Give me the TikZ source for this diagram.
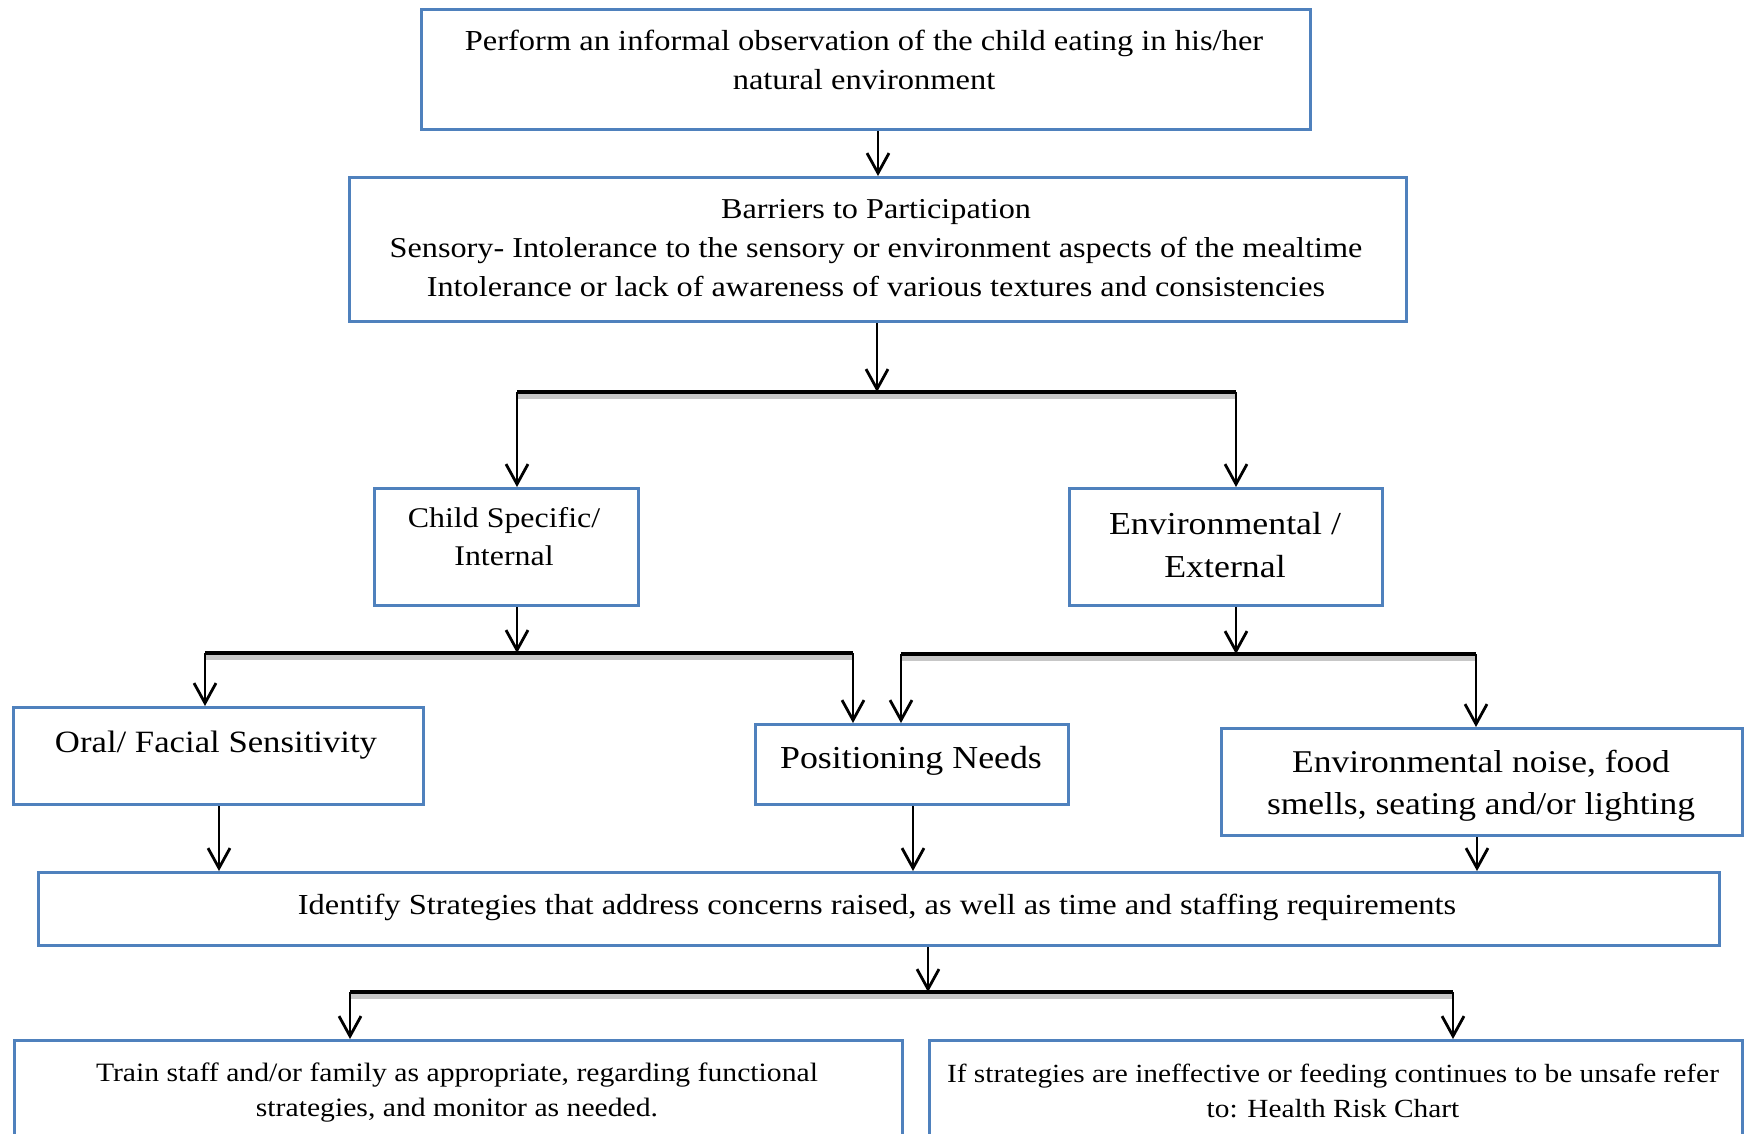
\documentclass[tikz,border=0pt]{standalone}
\usepackage{fontspec}
\setmainfont[FakeStretch=1.12]{Liberation Serif}
\usetikzlibrary{arrows.meta}
\definecolor{boxblue}{HTML}{4F81BD}
\begin{document}
\begin{tikzpicture}[x=1pt,y=-1pt,
  box/.style={draw=boxblue,line width=3pt,inner sep=0pt,anchor=north west},
  txt/.style={align=center,inner sep=0pt},
  flow/.style={line width=2.8pt,-{Straight Barb[length=20pt,width=22pt]}},
  busline/.style={line width=3.5pt},
  busshade/.style={line width=4.5pt,draw=black!22}]
\clip (0,0) rectangle (1744,1133);
\fill[white] (0,0) rectangle (1744,1133);

% boxes
\node[box,minimum width=889,minimum height=120] (obs)   at (420,8) {};
\node[box,minimum width=1057,minimum height=144] (barr) at (348,176) {};
\node[box,minimum width=264,minimum height=117] (child) at (373,487) {};
\node[box,minimum width=313,minimum height=117] (env)   at (1068,487) {};
\node[box,minimum width=410,minimum height=97]  (oral)  at (11.5,706) {};
\node[box,minimum width=313,minimum height=80]  (pos)   at (754,723) {};
\node[box,minimum width=521,minimum height=107] (noise) at (1220,727) {};
\node[box,minimum width=1681,minimum height=73] (ident) at (37,871) {};
\node[box,minimum width=888,minimum height=200] (train) at (13,1039) {};
\node[box,minimum width=813,minimum height=200] (refer) at (928,1039) {};

% texts
\node[txt,font=\fontsize{29}{39}\selectfont] (tobs) at (864,60)
  {Perform an informal observation of the child eating in his/her\\natural environment};
\node[txt,font=\fontsize{28.8}{39}\selectfont] (tbarr) at (876,248)
  {Barriers to Participation\\Sensory- Intolerance to the sensory or environment aspects of the mealtime\\Intolerance or lack of awareness of various textures and consistencies};
\node[txt,font=\fontsize{28.5}{38}\selectfont] (tchild) at (504,537) {Child Specific/\\Internal};
\node[txt,font=\fontsize{32}{43}\selectfont] (tenv) at (1225,545) {Environmental /\\External};
\node[txt,font=\fontsize{31}{38}\selectfont] (toral) at (216,745) {Oral/ Facial Sensitivity};
\node[txt,font=\fontsize{32}{38}\selectfont] (tpos) at (911,761) {Positioning Needs};
\node[txt,font=\fontsize{31.7}{42}\selectfont] (tnoise) at (1481,786)
  {Environmental noise, food\\smells, seating and/or lighting};
\node[txt,font=\fontsize{29}{38}\selectfont] (tident) at (877,907)
  {Identify Strategies that address concerns raised, as well as time and staffing requirements};
\node[txt,font=\fontsize{26.5}{35}\selectfont] (ttrain) at (457,1093)
  {Train staff and/or family as appropriate, regarding functional\\strategies, and monitor as needed.};
\node[txt,font=\fontsize{26.2}{35}\selectfont] (trefer) at (1333,1091)
  {If strategies are ineffective or feeding continues to be unsafe refer\\to: Health Risk Chart};

% junction points of the branching lines
\coordinate (j1) at (877,392);
\coordinate (j1l) at (517,392);
\coordinate (j1r) at (1236,392);
\coordinate (j2) at (517,653);
\coordinate (j2l) at (205,653);
\coordinate (j2r) at (853,653);
\coordinate (j3) at (1236,654);
\coordinate (j3l) at (901,654);
\coordinate (j3r) at (1476,654);
\coordinate (j4) at (928,992);
\coordinate (j4l) at (350,992);
\coordinate (j4r) at (1453,992);
\coordinate (d1) at (219,0);
\coordinate (d2) at (913,0);
\coordinate (d3) at (1477,0);

% horizontal branch lines with their soft shadow just below
\foreach \a/\b in {j1l/j1r,j2l/j2r,j3l/j3r,j4l/j4r}{
  \draw[busshade] ([yshift=-4.5pt]\a) -- ([yshift=-4.5pt]\b);
  \draw[busline] (\a) -- (\b);
}

% connectors
\draw[flow] (obs.south -| barr.north) -- (barr.north);
\draw[flow] (barr.south -| j1) -- (j1);
\draw[flow] (j1l) -- (j1l |- child.north);
\draw[flow] (j1r) -- (j1r |- env.north);
\draw[flow] (child.south -| j2) -- (j2);
\draw[flow] (env.south -| j3) -- (j3);
\draw[flow] (j2l) -- (j2l |- oral.north);
\draw[flow] (j2r) -- (j2r |- pos.north);
\draw[flow] (j3l) -- (j3l |- pos.north);
\draw[flow] (j3r) -- (j3r |- noise.north);
\draw[flow] (oral.south -| d1) -- (d1 |- ident.north);
\draw[flow] (pos.south -| d2) -- (d2 |- ident.north);
\draw[flow] (noise.south -| d3) -- (d3 |- ident.north);
\draw[flow] (ident.south -| j4) -- (j4);
\draw[flow] (j4l) -- (j4l |- train.north);
\draw[flow] (j4r) -- (j4r |- refer.north);
\end{tikzpicture}
\end{document}
